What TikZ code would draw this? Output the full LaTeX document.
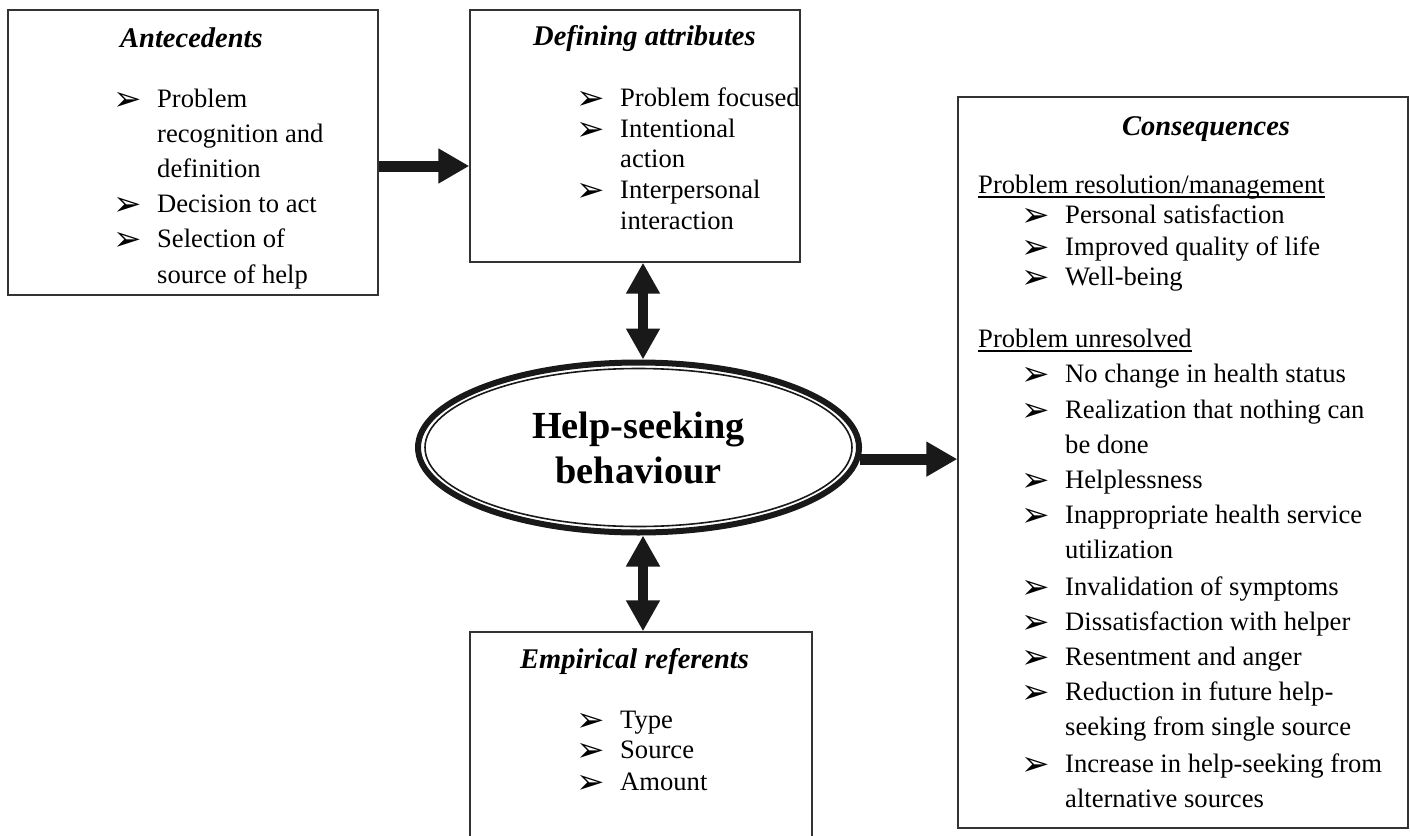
\documentclass[tikz,border=0pt]{standalone}
\usepackage{fontspec}
\setmainfont{Liberation Serif}
\newfontfamily\dejavu{DejaVu Sans}
\usetikzlibrary{arrows.meta,shapes.geometric,calc}

\tikzset{
 box/.style={draw=black!80, line width=1.4pt, rectangle, inner sep=0pt},
 txt/.style={anchor=base west, inner sep=0pt, font=\fontsize{26.6}{30}\selectfont},
 ttl/.style={anchor=base west, inner sep=0pt, font=\fontsize{28.5}{32}\selectfont\bfseries\itshape},
 bul/.style={anchor=base west, inner sep=0pt, font=\dejavu\fontsize{34}{34}\selectfont},
 bigarrow/.style={draw=black!90, line width=11pt, -{Triangle[length=31pt,width=33pt]}},
 dblarrow/.style={draw=black!90, line width=10pt, {Triangle[length=31pt,width=32pt]}-{Triangle[length=31pt,width=32pt]}},
 ulin/.style={line width=1.8pt},
}
\newcommand{\bli}[5]{\node[bul] (#1b) at (#2-2,#4+3) {➢}; \node[txt] (#1) at (#3,#4) {#5};}
\newcommand{\cli}[4]{\node[txt] (#1) at (#2,#3) {#4};}

\begin{document}
\begin{tikzpicture}[x=1pt,y=-1pt]
\clip (0,0) rectangle (1410,835);
\fill[white] (0,0) rectangle (1410,835);

% boxes
\node[box, minimum width=370pt, minimum height=285pt] (ant) at (193,152.5) {};
\node[box, minimum width=330pt, minimum height=252pt] (def) at (635,136) {};
\node[box, minimum width=342pt, minimum height=268pt] (emp) at (641,766) {};
\node[box, minimum width=450pt, minimum height=731pt] (con) at (1183,462.5) {};

% central ellipse
\node[ellipse, draw=black!90, line width=6pt, minimum width=441pt, minimum height=170pt,
      inner sep=0pt, align=center, font=\fontsize{38.3}{45}\selectfont\bfseries] (hs) at (638.5,447.5)
      {Help-seeking\\behaviour};
\draw[line width=1.6pt, black!90] (hs.center) ellipse [x radius=213.5pt, y radius=79pt];

% Antecedents
\node[ttl] (antt) at (120,47) {Antecedents};
\bli{a1}{115}{157}{107}{Problem}
\cli{a1c}{157}{142}{recognition and}
\cli{a1d}{157}{177}{definition}
\bli{a2}{115}{157}{212}{Decision to act}
\bli{a3}{115}{157}{247}{Selection of}
\cli{a3c}{157}{283}{source of help}

% Defining attributes
\node[ttl] (deft) at (533,45) {Defining attributes};
\bli{d1}{578}{620}{106}{Problem focused}
\bli{d2}{578}{620}{137}{Intentional}
\cli{d2c}{620}{167}{action}
\bli{d3}{578}{620}{198}{Interpersonal}
\cli{d3c}{620}{229}{interaction}

% Empirical referents
\node[ttl] (empt) at (520,668) {Empirical referents};
\bli{e1}{578}{620}{728}{Type}
\bli{e2}{578}{620}{758}{Source}
\bli{e3}{578}{620}{790}{Amount}

% Consequences
\node[ttl] (cont) at (1122,135) {Consequences};
\cli{pr}{978}{193}{Problem resolution/management}
\draw[ulin] ($(pr.base west)+(0,4)$) -- ($(pr.base east)+(0,4)$);
\bli{c1}{1023}{1065}{223}{Personal satisfaction}
\bli{c2}{1023}{1065}{255}{Improved quality of life}
\bli{c3}{1023}{1065}{285}{Well-being}
\cli{pu}{978}{347}{Problem unresolved\ }
\draw[ulin] ($(pu.base west)+(0,4)$) -- ($(pu.base east)+(0,4)$);
\bli{u1}{1023}{1065}{382}{No change in health status}
\bli{u2}{1023}{1065}{418}{Realization that nothing can}
\cli{u2c}{1065}{453}{be done}
\bli{u3}{1023}{1065}{488}{Helplessness}
\bli{u4}{1023}{1065}{523}{Inappropriate health service}
\cli{u4c}{1065}{558}{utilization}
\bli{u5}{1023}{1065}{595}{Invalidation of symptoms}
\bli{u6}{1023}{1065}{630}{Dissatisfaction with helper}
\bli{u7}{1023}{1065}{665}{Resentment and anger}
\bli{u8}{1023}{1065}{700}{Reduction in future help-}
\cli{u8c}{1065}{735}{seeking from single source}
\bli{u9}{1023}{1065}{772}{Increase in help-seeking from}
\cli{u9c}{1065}{807}{alternative sources}

% connectors
\coordinate (ka) at ($(ant.east)+(0,13.5)$);
\draw[bigarrow] (ka) -- (ka -| def.west);
\coordinate (kv) at (643,0);
\draw[dblarrow] (kv |- def.south) -- (kv |- hs.north);
\draw[dblarrow] (kv |- hs.south) -- (kv |- emp.north);
\draw[bigarrow] (hs.-3.7) -- (hs.-3.7 -| con.west);
\end{tikzpicture}
\end{document}
